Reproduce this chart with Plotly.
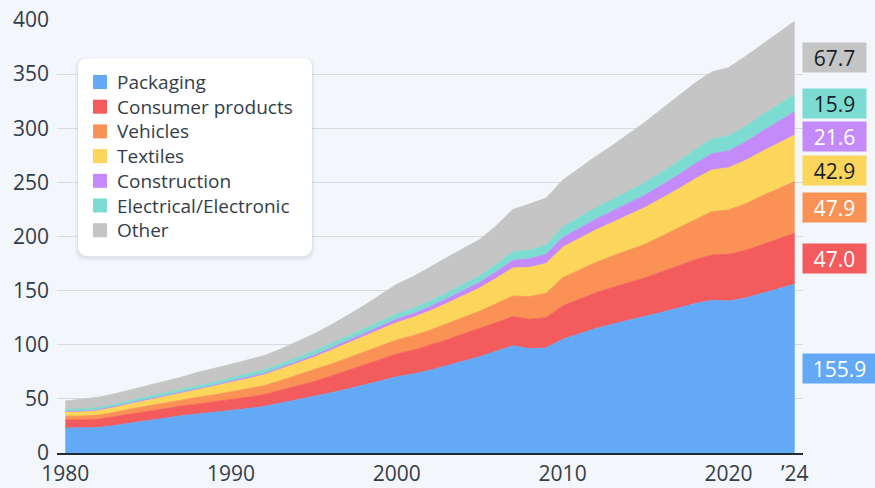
import plotly.graph_objects as go

# ---------------- data ----------------
years = list(range(1980, 2025))

packaging = [23.0, 23.0, 23.5, 25.5, 28.0, 30.0, 32.0, 34.5, 36.0, 37.5,
             39.5, 41.0, 43.0, 46.0, 49.0, 52.0, 55.5, 59.0, 62.5, 66.5,
             70.5, 73.0, 76.5, 80.5, 85.0, 89.0, 94.0, 99.0, 96.5, 97.0,
             105.0, 110.0, 115.0, 119.0, 122.5, 126.0, 130.0, 134.0, 138.0, 141.0,
             140.5, 143.0, 147.5, 151.5, 155.9]
consumer = [7.5, 7.5, 7.8, 8.0, 8.3, 8.5, 8.8, 9.0, 9.3, 9.6,
            10.0, 10.5, 11.0, 12.0, 13.0, 14.0, 15.5, 17.0, 18.5, 20.0,
            21.0, 22.0, 23.0, 24.0, 25.0, 26.0, 26.5, 27.0, 27.0, 28.0,
            31.0, 32.0, 33.0, 34.0, 35.0, 36.0, 37.5, 39.0, 40.5, 42.0,
            43.0, 44.0, 45.0, 46.0, 47.0]
vehicles = [3.5, 3.6, 3.8, 4.1, 4.5, 5.0, 5.4, 5.8, 6.2, 6.6,
            7.0, 7.6, 8.2, 9.0, 9.8, 10.5, 11.0, 11.5, 12.0, 12.5,
            13.0, 13.5, 14.0, 14.8, 15.4, 16.0, 17.5, 19.0, 21.0, 22.5,
            26.0, 27.0, 28.0, 29.0, 30.0, 31.0, 33.0, 35.0, 37.5, 40.0,
            41.0, 43.0, 44.8, 46.5, 47.9]
textiles = [4.0, 4.1, 4.3, 4.6, 5.0, 5.5, 6.0, 6.6, 7.2, 8.0,
            9.0, 9.5, 10.0, 10.6, 11.3, 12.0, 12.8, 13.6, 14.4, 15.2,
            16.0, 16.8, 17.8, 18.8, 20.0, 21.5, 23.5, 26.0, 27.0, 27.5,
            28.0, 29.0, 30.0, 31.0, 32.5, 34.0, 35.0, 36.0, 37.3, 38.5,
            39.0, 40.0, 41.0, 42.0, 42.9]
construction = [0.5, 0.5, 0.5, 0.6, 0.6, 0.7, 0.7, 0.8, 0.8, 0.9,
                1.0, 1.1, 1.2, 1.3, 1.5, 1.7, 2.0, 2.3, 2.6, 2.9,
                3.2, 3.5, 3.9, 4.3, 4.7, 5.2, 6.0, 7.0, 8.0, 8.5,
                9.0, 9.5, 10.0, 10.5, 11.0, 11.5, 12.3, 13.0, 14.0, 15.0,
                15.5, 17.0, 18.5, 20.0, 21.6]
electrical = [2.0, 2.0, 2.1, 2.2, 2.3, 2.4, 2.5, 2.6, 2.7, 2.8,
              3.0, 3.2, 3.4, 3.6, 3.8, 4.0, 4.2, 4.4, 4.5, 4.6,
              4.8, 5.0, 5.2, 5.4, 5.7, 6.0, 7.0, 8.0, 8.0, 8.5,
              10.0, 10.2, 10.5, 10.8, 11.2, 11.5, 12.0, 12.5, 13.0, 13.5,
              14.0, 14.5, 15.0, 15.5, 15.9]
other = [7.5, 8.8, 9.5, 9.8, 9.8, 10.0, 10.6, 10.7, 12.3, 12.6,
         12.5, 13.1, 13.2, 13.5, 14.6, 15.8, 17.0, 19.2, 21.5, 24.3,
         27.5, 29.2, 31.6, 32.6, 33.0, 33.5, 35.5, 39.0, 42.5, 43.5,
         43.0, 45.3, 47.5, 49.7, 52.8, 56.0, 58.2, 60.5, 61.7, 62.0,
         63.0, 64.5, 65.2, 66.5, 67.7]

series_names = ["Packaging", "Consumer products", "Vehicles", "Textiles",
                "Construction", "Electrical/Electronic", "Other"]
series_values = [packaging, consumer, vehicles, textiles,
                 construction, electrical, other]

x_tickvals = [1980, 1990, 2000, 2010, 2020, 2024]
x_ticktext = ["1980", "1990", "2000", "2010", "2020", "\u201924"]
y_tickvals = [0, 50, 100, 150, 200, 250, 300, 350, 400]

# ---------------- style ----------------
colors = ["#63a9f6", "#f35b5d", "#fa9155", "#fbd65b", "#c58af9", "#7cdcd1", "#c5c5c5"]
label_font_colors = ["#ffffff", "#ffffff", "#ffffff", "#161e2b", "#ffffff", "#161e2b", "#161e2b"]
BG = "#f3f6fa"
FONT = "Open Sans"
TEXT = "#333d49"

W, H = 875, 488
ML, MR, MT, MB = 57, 72, 20, 35
PW, PH = W - ML - MR, H - MT - MB


def px2paper(px, py):
    return (px - ML) / PW, (H - MB - py) / PH


def rounded_path(x0, y0, x1, y1, r):
    def P(px, py):
        a, b = px2paper(px, py)
        return f"{a:.5f},{b:.5f}"
    s = f"M{P(x0 + r, y0)} L{P(x1 - r, y0)} Q{P(x1, y0)} {P(x1, y0 + r)} "
    s += f"L{P(x1, y1 - r)} Q{P(x1, y1)} {P(x1 - r, y1)} "
    s += f"L{P(x0 + r, y1)} Q{P(x0, y1)} {P(x0, y1 - r)} "
    s += f"L{P(x0, y0 + r)} Q{P(x0, y0)} {P(x0 + r, y0)} Z"
    return s


fig = go.Figure()
for name, vals, col in zip(series_names, series_values, colors):
    fig.add_trace(go.Scatter(
        x=years, y=vals, name=name, stackgroup="one", mode="lines",
        line=dict(width=0.8, color=col), fillcolor=col, showlegend=False,
        hoverinfo="x+y+name"))

shapes = []
# legend box with soft shadow
shapes.append(dict(type="path", xref="paper", yref="paper", layer="above",
                   path=rounded_path(75, 57, 315, 261, 12),
                   fillcolor="rgba(30,40,60,0.035)", line=dict(width=0)))
shapes.append(dict(type="path", xref="paper", yref="paper", layer="above",
                   path=rounded_path(77, 58, 313, 259, 11),
                   fillcolor="rgba(30,40,60,0.05)", line=dict(width=0)))
shapes.append(dict(type="path", xref="paper", yref="paper", layer="above",
                   path=rounded_path(78, 58, 312, 256, 10),
                   fillcolor="#ffffff", line=dict(width=0)))

annotations = []
row0, row_h = 82, 24.7
for i, (name, col) in enumerate(zip(series_names, colors)):
    cy = row0 + i * row_h
    ax0, ay0 = px2paper(93, cy + 7)
    ax1, ay1 = px2paper(107, cy - 7)
    shapes.append(dict(type="rect", xref="paper", yref="paper", layer="above",
                       x0=ax0, y0=ay0, x1=ax1, y1=ay1, fillcolor=col, line=dict(width=0)))
    tx, ty = px2paper(115, cy)
    annotations.append(dict(xref="paper", yref="paper", x=tx, y=ty, xanchor="left",
                            yanchor="middle", text=name, showarrow=False,
                            font=dict(family=FONT, size=19, color=TEXT)))

# end-of-series value labels, positioned at band midpoints with overlap avoidance
last_vals = [v[-1] for v in series_values]
cum = 0
mids = []
for v in last_vals:
    mids.append(cum + v / 2)
    cum += v
gap = 31
positions = [0] * len(mids)
prev = None
for i in range(len(mids) - 1, -1, -1):
    p = mids[i] if prev is None else min(mids[i], prev - gap)
    positions[i] = p
    prev = p

for i, v in enumerate(last_vals):
    txt = f"{v:.1f}"
    annotations.append(dict(xref="x", yref="y", x=years[-1], y=positions[i],
                            xanchor="left", yanchor="middle", xshift=7,
                            text=txt, showarrow=False, bgcolor=colors[i],
                            width=61 if len(txt) <= 4 else 71, height=27, borderpad=1,
                            align="center",
                            font=dict(family=FONT, size=21, color=label_font_colors[i])))

fig.update_layout(
    width=W, height=H,
    margin=dict(l=ML, r=MR, t=MT, b=MB, pad=0, autoexpand=False),
    paper_bgcolor=BG, plot_bgcolor=BG,
    font=dict(family=FONT, color=TEXT),
    showlegend=False,
    shapes=shapes, annotations=annotations,
    xaxis=dict(range=[1979.5, 2024.5], tickvals=x_tickvals, ticktext=x_ticktext,
               showgrid=False, zeroline=False, showline=True, linecolor="#1f2a37",
               linewidth=2, ticks="", automargin=False, ticklabelstandoff=1,
               tickfont=dict(family=FONT, size=21, color=TEXT)),
    yaxis=dict(range=[0, 400], tickvals=y_tickvals, showgrid=True, gridcolor="#d6dbe1",
               gridwidth=1, zeroline=False, showline=False, ticks="", automargin=False,
               ticklabelstandoff=7,
               tickfont=dict(family=FONT, size=21, color=TEXT)),
)

fig.write_html("out.html", config={"displayModeBar": False},
               post_script="document.body.style.margin='0';")
